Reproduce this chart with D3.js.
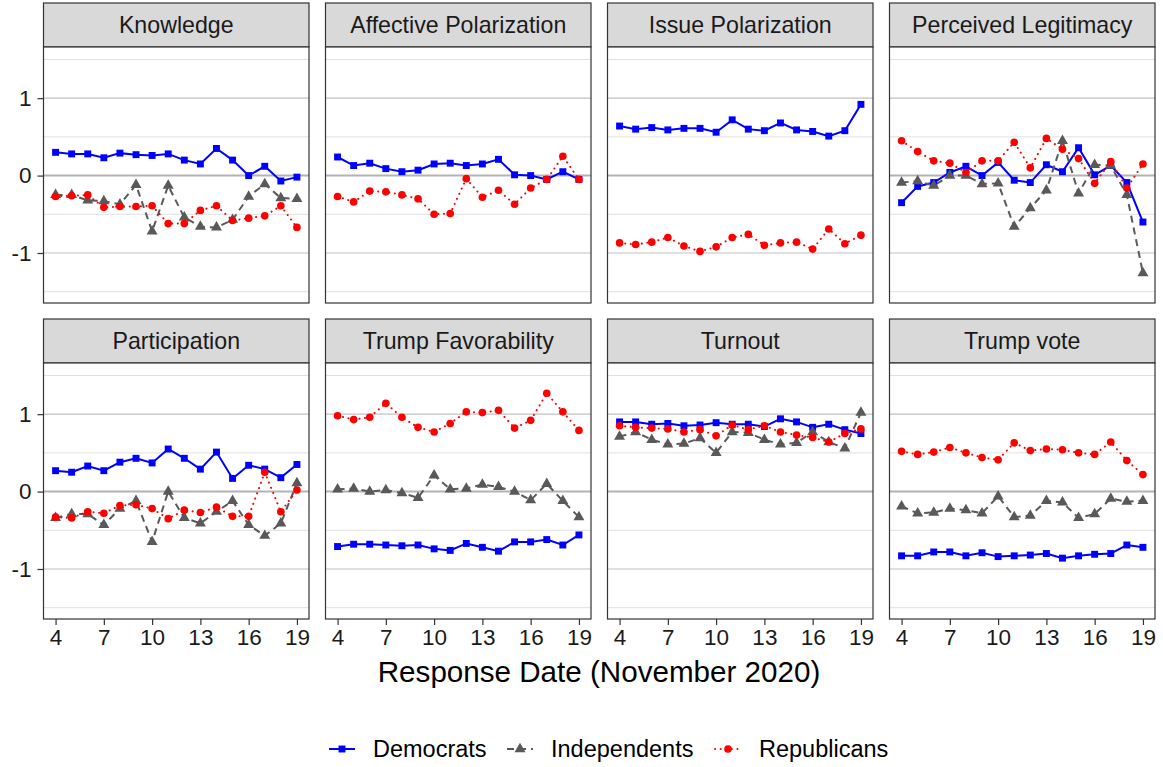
<!DOCTYPE html>
<html>
<head>
<meta charset="utf-8">
<script src="https://cdn.jsdelivr.net/npm/d3@7"></script>
<style>
  body { margin: 0; background: #fff; }
  text { font-family: "Liberation Sans", Arial, sans-serif; }
</style>
</head>
<body>
<svg id="chart" width="1163" height="767"></svg>
<script>
// response days in November 2020
var days = [4, 5, 6, 7, 8, 9, 10, 11, 12, 13, 14, 15, 16, 17, 18, 19];
var xTicks = [4, 7, 10, 13, 16, 19];
var yTicks = [-1, 0, 1];
var yMinor = [-1.5, -0.5, 0.5, 1.5];
var groups = ["Democrats", "Independents", "Republicans"];
var facets = ["Knowledge", "Affective Polarization", "Issue Polarization", "Perceived Legitimacy",
              "Participation", "Trump Favorability", "Turnout", "Trump vote"];

// Knowledge
var knowDem = [0.30, 0.28, 0.28, 0.23, 0.29, 0.27, 0.26, 0.28, 0.20, 0.15, 0.35, 0.20, 0.00, 0.12, -0.07, -0.02];
var knowInd = [-0.25, -0.25, -0.32, -0.33, -0.37, -0.12, -0.72, -0.13, -0.54, -0.66, -0.67, -0.57, -0.27, -0.11, -0.29, -0.30];
var knowRep = [-0.27, -0.26, -0.25, -0.41, -0.40, -0.40, -0.39, -0.62, -0.62, -0.45, -0.39, -0.58, -0.55, -0.52, -0.39, -0.67];
// Affective Polarization
var affDem = [0.24, 0.13, 0.16, 0.09, 0.05, 0.07, 0.15, 0.16, 0.13, 0.15, 0.21, 0.01, 0.00, -0.05, 0.05, -0.05];
var affRep = [-0.27, -0.34, -0.20, -0.21, -0.25, -0.30, -0.50, -0.49, -0.04, -0.28, -0.19, -0.37, -0.16, -0.05, 0.25, -0.05];
// Issue Polarization
var issDem = [0.64, 0.60, 0.62, 0.59, 0.61, 0.61, 0.56, 0.72, 0.60, 0.58, 0.68, 0.59, 0.57, 0.51, 0.58, 0.92];
var issRep = [-0.87, -0.89, -0.86, -0.80, -0.91, -0.98, -0.92, -0.80, -0.76, -0.90, -0.87, -0.86, -0.95, -0.69, -0.88, -0.77];
// Perceived Legitimacy
var legDem = [-0.35, -0.14, -0.09, 0.04, 0.12, 0.00, 0.17, -0.06, -0.09, 0.14, 0.05, 0.36, 0.01, 0.13, -0.09, -0.60];
var legInd = [-0.09, -0.07, -0.13, 0.00, 0.00, -0.11, -0.10, -0.66, -0.42, -0.19, 0.45, -0.23, 0.14, 0.13, -0.25, -1.26];
var legRep = [0.45, 0.31, 0.19, 0.16, 0.04, 0.19, 0.19, 0.43, 0.10, 0.48, 0.34, 0.22, -0.10, 0.18, -0.16, 0.15];
// Participation
var partDem = [0.27, 0.25, 0.33, 0.27, 0.38, 0.43, 0.37, 0.55, 0.43, 0.29, 0.51, 0.17, 0.34, 0.29, 0.18, 0.35];
var partInd = [-0.34, -0.29, -0.29, -0.43, -0.22, -0.12, -0.65, 0.00, -0.34, -0.41, -0.26, -0.12, -0.43, -0.57, -0.41, 0.11];
var partRep = [-0.33, -0.34, -0.26, -0.28, -0.18, -0.17, -0.22, -0.35, -0.24, -0.27, -0.20, -0.32, -0.32, 0.25, -0.26, 0.02];
// Trump Favorability
var favDem = [-0.71, -0.68, -0.68, -0.69, -0.70, -0.69, -0.74, -0.76, -0.67, -0.72, -0.77, -0.65, -0.65, -0.62, -0.69, -0.56];
var favInd = [0.03, 0.04, 0.00, 0.02, -0.02, -0.08, 0.21, 0.03, 0.04, 0.09, 0.06, 0.00, -0.11, 0.10, -0.12, -0.33];
var favRep = [0.98, 0.93, 0.96, 1.14, 0.96, 0.83, 0.77, 0.88, 1.03, 1.02, 1.05, 0.82, 0.92, 1.27, 1.03, 0.79];
// Turnout
var turnDem = [0.90, 0.90, 0.87, 0.88, 0.85, 0.86, 0.89, 0.87, 0.87, 0.84, 0.94, 0.90, 0.83, 0.87, 0.80, 0.75];
var turnInd = [0.71, 0.77, 0.67, 0.61, 0.62, 0.69, 0.50, 0.77, 0.76, 0.67, 0.61, 0.63, 0.77, 0.64, 0.56, 1.02];
var turnRep = [0.85, 0.83, 0.82, 0.81, 0.77, 0.80, 0.72, 0.86, 0.80, 0.85, 0.77, 0.73, 0.70, 0.64, 0.75, 0.81];
// Trump vote
var voteDem = [-0.83, -0.83, -0.78, -0.78, -0.83, -0.79, -0.84, -0.83, -0.82, -0.80, -0.86, -0.83, -0.81, -0.80, -0.69, -0.72];
var voteInd = [-0.19, -0.28, -0.27, -0.22, -0.24, -0.28, -0.06, -0.33, -0.31, -0.12, -0.14, -0.34, -0.29, -0.09, -0.13, -0.12];
var voteRep = [0.52, 0.48, 0.51, 0.57, 0.50, 0.44, 0.41, 0.63, 0.53, 0.55, 0.54, 0.50, 0.48, 0.64, 0.40, 0.22];

var panelSeries = [
  [knowDem, knowInd, knowRep],
  [affDem, null, affRep],
  [issDem, null, issRep],
  [legDem, legInd, legRep],
  [partDem, partInd, partRep],
  [favDem, favInd, favRep],
  [turnDem, turnInd, turnRep],
  [voteDem, voteInd, voteRep]
];

var colors = {"Democrats": "#0000ff", "Independents": "#595959", "Republicans": "#ff0000"};
var dashes = {"Democrats": null, "Independents": "7,5", "Republicans": "0.1,5.5"};
var shapes = {"Democrats": d3.symbolSquare, "Independents": d3.symbolTriangle, "Republicans": d3.symbolCircle};
var sizes = {"Democrats": 48, "Independents": 52, "Republicans": 46};

var left0 = 43.5, colStep = 282, panelW = 265.5;
var top0 = 3, rowStep = 316, stripH = 44, panelH = 256;

var svg = d3.select("#chart");

var x = d3.scaleLinear().domain([3.25, 19.75]).range([0, panelW]);
var y = d3.scaleLinear().domain([-1.646, 1.661]).range([panelH, 0]);

facets.forEach(function(name, i){
  var col = i % 4, row = Math.floor(i / 4);
  var px = left0 + col * colStep;
  var sy = top0 + row * rowStep;
  var py = sy + stripH;

  // strip
  svg.append("rect").attr("x", px).attr("y", sy).attr("width", panelW).attr("height", stripH)
    .attr("fill", "#d9d9d9").attr("stroke", "#333").attr("stroke-width", 1.2);
  svg.append("text").attr("x", px + panelW / 2).attr("y", sy + stripH / 2 + 8)
    .attr("text-anchor", "middle").attr("font-size", "23.2px").attr("fill", "#1a1a1a").text(name);

  var g = svg.append("g").attr("transform", "translate(" + px + "," + py + ")");
  g.append("rect").attr("width", panelW).attr("height", panelH).attr("fill", "#fff");

  g.selectAll(".minor").data(yMinor).enter().append("line")
    .attr("x1", 0).attr("x2", panelW)
    .attr("y1", function(d){ return y(d); }).attr("y2", function(d){ return y(d); })
    .attr("stroke", "#e0e0e0").attr("stroke-width", 1);
  g.selectAll(".major").data(yTicks).enter().append("line")
    .attr("x1", 0).attr("x2", panelW)
    .attr("y1", function(d){ return y(d); }).attr("y2", function(d){ return y(d); })
    .attr("stroke", function(d){ return d === 0 ? "#b3b3b3" : "#c2c2c2"; })
    .attr("stroke-width", function(d){ return d === 0 ? 2 : 1.2; });

  var series = panelSeries[i];
  var line = d3.line().x(function(d, j){ return x(days[j]); }).y(function(d){ return y(d); });

  groups.forEach(function(grp, k){
    if (!series[k]) return;
    g.append("path").datum(series[k]).attr("d", line)
      .attr("fill", "none").attr("stroke", colors[grp]).attr("stroke-width", 2)
      .attr("stroke-linecap", grp === "Republicans" ? "round" : "butt")
      .attr("stroke-dasharray", dashes[grp]);
  });
  groups.forEach(function(grp, k){
    if (!series[k]) return;
    g.selectAll(".pt" + k).data(series[k]).enter().append("path")
      .attr("d", d3.symbol().type(shapes[grp]).size(sizes[grp]))
      .attr("transform", function(d, j){ return "translate(" + x(days[j]) + "," + y(d) + ")"; })
      .attr("fill", colors[grp]);
  });

  g.append("rect").attr("width", panelW).attr("height", panelH)
    .attr("fill", "none").attr("stroke", "#333").attr("stroke-width", 1.2);

  if (col === 0) {
    var ya = g.append("g").call(d3.axisLeft(y).tickValues(yTicks).tickSize(6).tickPadding(6)
      .tickFormat(function(d){ return String(d); }));
    ya.select(".domain").remove();
    ya.selectAll("line").attr("stroke", "#333").attr("stroke-width", 1.2);
    ya.selectAll("text").attr("font-size", "22.5px").attr("fill", "#1a1a1a")
      .attr("font-family", "Liberation Sans, Arial, sans-serif");
  }
  if (row === 1) {
    var xa = g.append("g").attr("transform", "translate(0," + panelH + ")")
      .call(d3.axisBottom(x).tickValues(xTicks).tickSize(6).tickPadding(4).tickFormat(d3.format("d")));
    xa.select(".domain").remove();
    xa.selectAll("line").attr("stroke", "#333").attr("stroke-width", 1.2);
    xa.selectAll("text").attr("font-size", "22.5px").attr("fill", "#1a1a1a")
      .attr("font-family", "Liberation Sans, Arial, sans-serif");
  }
});

// axis title
svg.append("text").attr("x", 599).attr("y", 682).attr("text-anchor", "middle")
  .attr("font-size", "29.6px").attr("fill", "#000").text("Response Date (November 2020)");

// legend
var legendX = [329, 507, 715];
var leg = svg.append("g");
groups.forEach(function(grp, k){
  var lx = legendX[k], ly = 749;
  leg.append("line").attr("x1", lx).attr("x2", lx + 26).attr("y1", ly).attr("y2", ly)
    .attr("stroke", colors[grp]).attr("stroke-width", 2)
    .attr("stroke-linecap", grp === "Republicans" ? "round" : "butt")
    .attr("stroke-dasharray", grp === "Independents" ? "7,5" : dashes[grp]);
  leg.append("path").attr("d", d3.symbol().type(shapes[grp]).size(sizes[grp]))
    .attr("transform", "translate(" + (lx + 13) + "," + ly + ")").attr("fill", colors[grp]);
  leg.append("text").attr("x", lx + 44).attr("y", ly + 8.3).attr("font-size", "23.5px")
    .attr("fill", "#000").text(grp);
});
</script>
</body>
</html>
